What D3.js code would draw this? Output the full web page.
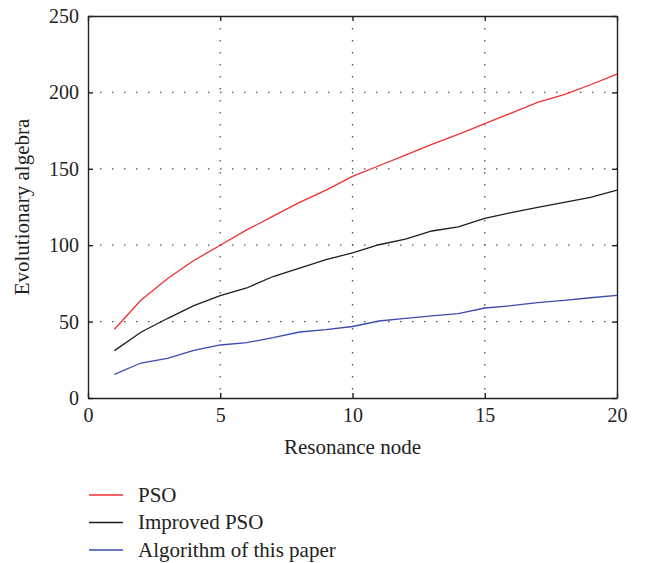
<!DOCTYPE html>
<html>
<head>
<meta charset="utf-8">
<script src="https://cdn.jsdelivr.net/npm/d3@7"></script>
<style>
  body { margin: 0; background: #fff; }
  text { font-family: "Liberation Serif", "DejaVu Serif", serif; fill: #222; }
</style>
</head>
<body>
<div id="chart"></div>
<script>
const width = 646;
const height = 563;

// data
const nodes = d3.range(1, 21);
const psoValues = [45, 64, 78, 90, 100, 110, 119, 128, 136, 145, 152, 159, 166, 172.5, 179.5, 186.5, 193.5, 198.5, 205, 212];
const improvedValues = [31, 43, 52, 60.5, 67, 72, 79.5, 85, 90.5, 95, 100.3, 104, 109.3, 112, 117.6, 121.3, 124.8, 128, 131.3, 136];
const paperValues = [15.5, 22.9, 26, 31.2, 34.7, 36.2, 39.5, 43.2, 44.7, 46.8, 50.4, 52.1, 53.7, 55.2, 58.9, 60.4, 62.4, 63.9, 65.6, 67.2];
const seriesNames = ["PSO", "Improved PSO", "Algorithm of this paper"];
const seriesColors = ["#f23030", "#1e1e1e", "#3a4cae"];
const xTicks = [0, 5, 10, 15, 20];
const yTicks = [0, 50, 100, 150, 200, 250];

const series = [psoValues, improvedValues, paperValues].map((vals, i) => ({
  name: seriesNames[i],
  color: seriesColors[i],
  points: vals.map((v, j) => ({ x: nodes[j], y: v }))
}));

const plot = { left: 88, right: 617, top: 16, bottom: 398 };

const xScale = d3.scaleLinear().domain([0, 20]).range([plot.left, plot.right]);
const yScale = d3.scaleLinear().domain([0, 250]).range([plot.bottom, plot.top]);

const svg = d3.select("#chart")
  .append("svg")
  .attr("width", width)
  .attr("height", height);

// dotted grid
svg.append("g")
  .selectAll("line")
  .data(xTicks.slice(1, -1))
  .join("line")
  .attr("x1", d => xScale(d)).attr("x2", d => xScale(d))
  .attr("y1", plot.top).attr("y2", plot.bottom)
  .attr("stroke", "#555")
  .attr("stroke-width", 1.3)
  .attr("stroke-dasharray", "1.5,10.5");

svg.append("g")
  .selectAll("line")
  .data(yTicks.slice(1, -1))
  .join("line")
  .attr("x1", plot.left).attr("x2", plot.right)
  .attr("y1", d => yScale(d)).attr("y2", d => yScale(d))
  .attr("stroke", "#555")
  .attr("stroke-width", 1.3)
  .attr("stroke-dasharray", "1.5,10.5");

// axes (ticks point inward)
svg.append("g")
  .attr("transform", `translate(0,${plot.bottom})`)
  .call(d3.axisBottom(xScale).tickValues(xTicks).tickSizeInner(-5).tickSizeOuter(0).tickPadding(10));

svg.append("g")
  .attr("transform", `translate(${plot.left},0)`)
  .call(d3.axisLeft(yScale).tickValues(yTicks).tickSizeInner(-5).tickSizeOuter(0).tickPadding(9));

svg.append("g")
  .attr("transform", `translate(0,${plot.top})`)
  .call(d3.axisTop(xScale).tickValues(xTicks).tickSizeInner(-5).tickSizeOuter(0).tickFormat(""));

svg.append("g")
  .attr("transform", `translate(${plot.right},0)`)
  .call(d3.axisRight(yScale).tickValues(yTicks).tickSizeInner(-5).tickSizeOuter(0).tickFormat(""));

svg.selectAll(".domain").attr("stroke", "#222").attr("stroke-width", 1.4);
svg.selectAll(".tick line").attr("stroke", "#222").attr("stroke-width", 1.4);
svg.selectAll(".tick text")
  .attr("font-size", 20)
  .attr("font-family", "'Liberation Serif', 'DejaVu Serif', serif")
  .attr("fill", "#222");

// lines
const line = d3.line()
  .x(d => xScale(d.x))
  .y(d => yScale(d.y));

svg.append("g")
  .selectAll("path")
  .data(series)
  .join("path")
  .attr("d", d => line(d.points))
  .attr("fill", "none")
  .attr("stroke", d => d.color)
  .attr("stroke-width", 1.3);

// axis titles
svg.append("text")
  .attr("x", (plot.left + plot.right) / 2)
  .attr("y", 454)
  .attr("text-anchor", "middle")
  .attr("font-size", 21)
  .text("Resonance node");

svg.append("text")
  .attr("transform", `translate(29,${(plot.top + plot.bottom) / 2}) rotate(-90)`)
  .attr("text-anchor", "middle")
  .attr("font-size", 21)
  .text("Evolutionary algebra");

// legend
const legend = svg.append("g")
  .selectAll("g")
  .data(series)
  .join("g")
  .attr("transform", (d, i) => `translate(89,${495 + i * 27.5})`);

legend.append("line")
  .attr("x1", 0).attr("x2", 34)
  .attr("stroke", d => d.color)
  .attr("stroke-width", 1.3);

legend.append("text")
  .attr("x", 49)
  .attr("dy", "0.33em")
  .attr("font-size", 21)
  .text(d => d.name);
</script>
</body>
</html>
